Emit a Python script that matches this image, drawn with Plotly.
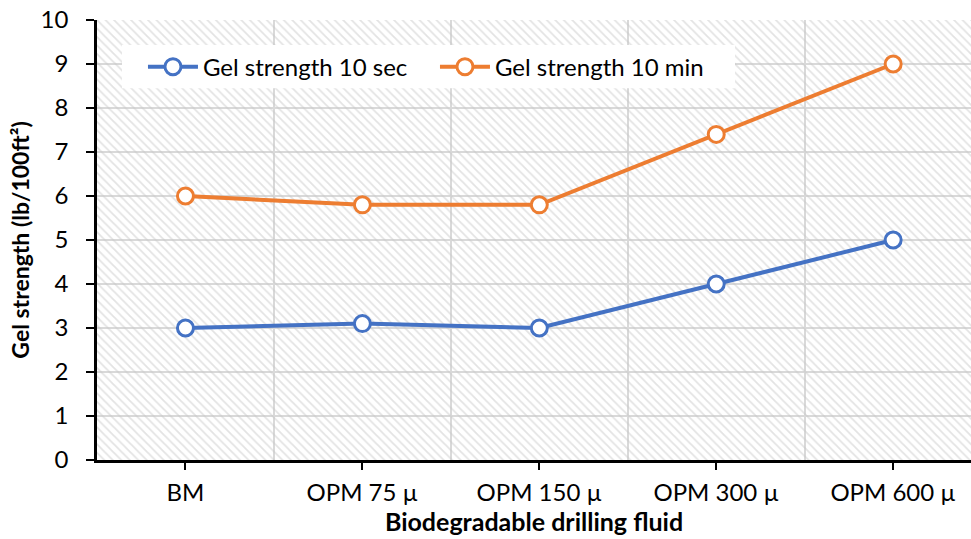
import plotly.graph_objects as go

categories = ["BM", "OPM 75 µ", "OPM 150 µ", "OPM 300 µ", "OPM 600 µ"]
gel_10_sec = [3.0, 3.1, 3.0, 4.0, 5.0]
gel_10_min = [6.0, 5.8, 5.8, 7.4, 9.0]
y_ticks = list(range(0, 11))

FONT = "Lato"
BLUE = "#4472C4"
ORANGE = "#ED7D31"

xs = list(range(len(categories)))
x_min, x_max = -0.5, 4.44
y_min, y_max = 0, 10

fig = go.Figure()

# hatched plot background
fig.add_trace(go.Scatter(
    x=[x_min, x_max, x_max, x_min, x_min], y=[y_min, y_min, y_max, y_max, y_min],
    mode="lines", line=dict(width=0), fill="toself", fillcolor="rgba(0,0,0,0)",
    fillpattern=dict(shape="\\", size=6, solidity=0.3, fgcolor="#c8c8c8",
                     bgcolor="rgba(0,0,0,0)"),
    hoverinfo="skip", showlegend=False))

for name, vals, col in [("Gel strength 10 sec", gel_10_sec, BLUE),
                        ("Gel strength 10 min", gel_10_min, ORANGE)]:
    fig.add_trace(go.Scatter(
        x=xs, y=vals, name=name, mode="lines+markers",
        line=dict(color=col, width=4),
        marker=dict(symbol="circle", size=16, color="white",
                    line=dict(color=col, width=3))))

# white legend box
fig.add_shape(type="rect", xref="paper", yref="paper",
              x0=0.0286, x1=0.730, y0=0.845, y1=0.943,
              fillcolor="white", line=dict(width=0), layer="above")

fig.update_layout(
    width=971, height=539,
    margin=dict(l=97, r=0, t=20, b=79, autoexpand=False),
    paper_bgcolor="white", plot_bgcolor="white",
    font=dict(family=FONT, size=24, color="black"),
    legend=dict(orientation="h", x=0.0526, y=0.893, xanchor="left", yanchor="middle",
                bgcolor="rgba(0,0,0,0)", font=dict(family=FONT, size=24),
                itemwidth=50, entrywidth=227, tracegroupgap=0),
    showlegend=True,
)

fig.update_xaxes(
    range=[x_min, x_max], tickmode="array", tickvals=xs, ticktext=categories,
    showgrid=False, zeroline=False, automargin=False,
    showline=True, linecolor="black", linewidth=2.5,
    ticks="outside", ticklen=7, tickwidth=2, tickcolor="black",
    ticklabelstandoff=2,
    minor=dict(tick0=0.5, dtick=1, showgrid=True, gridcolor="#d9d9d9",
               gridwidth=2, ticks=""),
    title=dict(text="<b>Biodegradable drilling fluid</b>", standoff=5,
               font=dict(family=FONT, size=25)),
)

fig.update_yaxes(
    range=[y_min, y_max], tickmode="array", tickvals=y_ticks,
    showgrid=True, gridcolor="#d9d9d9", gridwidth=2, zeroline=False,
    automargin=False,
    showline=True, linecolor="black", linewidth=2.5,
    ticks="outside", ticklen=8, tickwidth=2, tickcolor="black",
    ticklabelstandoff=13,
    title=dict(text="<b>Gel strength (lb/100ft²)</b>", standoff=5,
               font=dict(family=FONT, size=23)),
)

fig.write_html("out.html", config={"displayModeBar": False},
               post_script="document.body.style.margin='0';document.body.style.overflow='hidden';")
